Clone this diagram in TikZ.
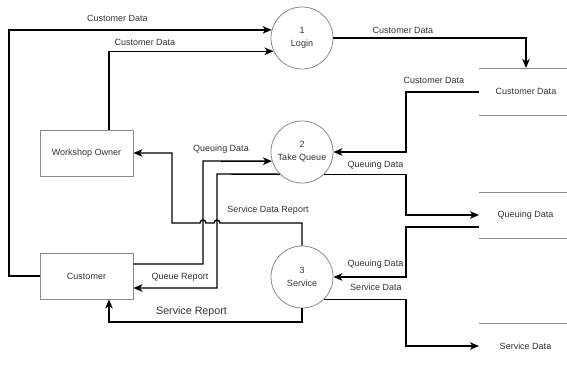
\documentclass[tikz,border=0pt]{standalone}
\usepackage{fontspec}
\setmainfont{Liberation Sans}
\usetikzlibrary{arrows.meta}
\definecolor{txt}{HTML}{333333}
\definecolor{edge}{HTML}{8A8A8A}
\begin{document}
\begin{tikzpicture}[x=1pt,y=-1pt,
  proc/.style={circle,draw=edge,line width=0.8pt,minimum size=62pt,inner sep=0pt,align=center,text=txt,font=\fontsize{9}{13}\selectfont},
  ent/.style={rectangle,draw=edge,line width=0.8pt,minimum width=93pt,minimum height=46pt,inner sep=0pt,text=txt,font=\fontsize{9}{11}\selectfont},
  storetxt/.style={text=txt,font=\fontsize{9}{11}\selectfont,inner sep=0pt},
  storeline/.style={draw=edge,line width=1pt},
  flow/.style={draw=black,line width=1.4pt,-{Stealth[length=9pt,width=7.5pt,inset=2.5pt]}},
  lbl/.style={text=txt,font=\fontsize{9}{11}\selectfont,inner sep=0pt},
  biglbl/.style={text=txt,font=\fontsize{10.7}{13}\selectfont,inner sep=0pt}]
\useasboundingbox (0,0) rectangle (567,367);

% processes
\node[proc] (login) at (302,38) {1\\Login};
\node[proc] (takequeue) at (302,152) {2\\Take Queue};
\node[proc] (service) at (302,277) {3\\Service};

% entities
\node[ent] (owner) at (86.5,153) {Workshop Owner};
\node[ent] (customer) at (86.5,276) {Customer};

% data stores
\draw[storeline] (479,68) -- (567,68);
\draw[storeline] (479,115) -- (567,115);
\draw[storeline] (479,192) -- (567,192);
\draw[storeline] (479,238) -- (567,238);
\draw[storeline] (479,323) -- (567,323);
\node[storetxt] (cdstore) at (526,91) {Customer Data};
\node[storetxt] (qdstore) at (525.5,215) {Queuing Data};
\node[storetxt] (sdstore) at (525.5,346) {Service Data};
\coordinate (cdtop) at (526,68);
\coordinate (cdleft) at (479,92);
\coordinate (qdin) at (479,215);
\coordinate (qdout) at (479,227);
\coordinate (sdin) at (479,346);

% connectors
\draw[flow] (customer.west) -- (9,276) |- (login.165);
\draw[flow] ([xshift=22.5pt]owner.north) |- (login.205);
\draw[flow] (login.east) -| (cdtop);
\draw[flow] (cdleft) -- (406,92) |- (takequeue.east);
\draw[flow] (takequeue.-45) -| (406,215) -- (qdin);
\draw[flow] (qdout) -- (406,227) |- (service.east);
\draw[flow] (service.-45) -| (406,346) -- (sdin);
\draw[flow] (service.south) -- (302,322) -| ([xshift=22.5pt]customer.south);
\draw[flow] (service.north) -- (302,223) -- (220,223) arc[start angle=0,end angle=180,radius=3pt]
  -- (206,223) arc[start angle=0,end angle=180,radius=3pt] -- (172,223) |- (owner.east);
\draw[flow] ([yshift=12pt]customer.east) -| (203,161) -- (takequeue.197);
\draw[flow] (takequeue.225) -- (217,174) |- ([yshift=-12pt]customer.east);

% labels
\node[lbl] at (117.5,18) {Customer Data};
\node[lbl] at (145,42) {Customer Data};
\node[lbl] at (403,30) {Customer Data};
\node[lbl] at (434,80) {Customer Data};
\node[lbl] at (375.5,165) {Queuing Data};
\node[lbl] at (375.5,264) {Queuing Data};
\node[lbl] at (376,287) {Service Data};
\node[biglbl] at (191.5,312) {Service Report};
\node[lbl] at (268,210) {Service Data Report};
\node[lbl] at (221,149) {Queuing Data};
\node[lbl] at (180,277) {Queue Report};
\end{tikzpicture}
\end{document}
